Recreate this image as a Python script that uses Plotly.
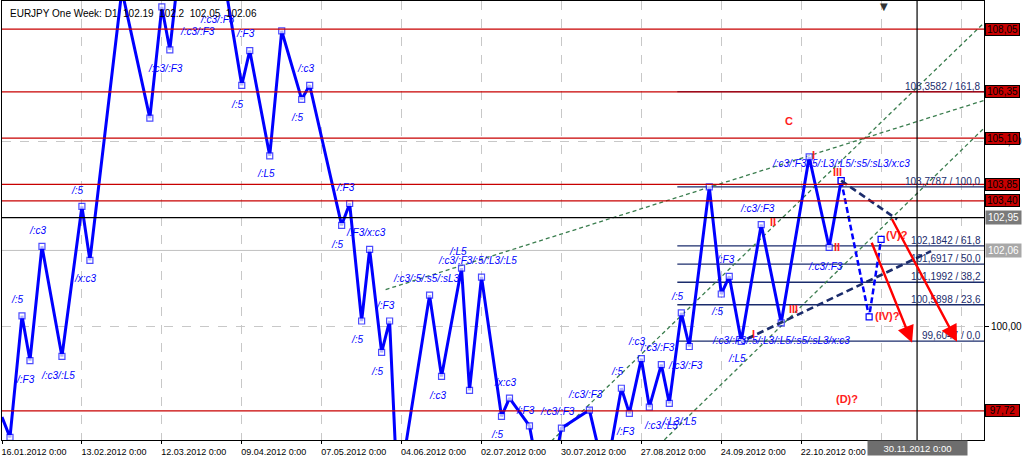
import plotly.graph_objects as go

# ---------------- data ----------------
# main zigzag wave (vertex dates / prices)
zz_dates = ["2012-01-16", "2012-01-18", "2012-01-23", "2012-01-25", "2012-01-30", "2012-02-06",
            "2012-02-13", "2012-02-15", "2012-02-27", "2012-03-07", "2012-03-12", "2012-03-14",
            "2012-03-19", "2012-03-23", "2012-03-30", "2012-04-09", "2012-04-11", "2012-04-18",
            "2012-04-23", "2012-04-30", "2012-05-02", "2012-05-14", "2012-05-16", "2012-05-21",
            "2012-05-23", "2012-05-28", "2012-05-30", "2012-06-01", "2012-06-13", "2012-06-18",
            "2012-06-25", "2012-06-27", "2012-07-02", "2012-07-09", "2012-07-11", "2012-07-18",
            "2012-07-24", "2012-07-30", "2012-08-08", "2012-08-14", "2012-08-20", "2012-08-22",
            "2012-08-27", "2012-08-29", "2012-09-03", "2012-09-05", "2012-09-10", "2012-09-12",
            "2012-09-19", "2012-09-24", "2012-09-26", "2012-10-01", "2012-10-08", "2012-10-15",
            "2012-10-24", "2012-10-31", "2012-11-05"]
zz_prices = [97.55, 97.00, 100.29, 99.08, 102.17, 99.19,
             103.25, 101.79, 109.10, 105.64, 108.65, 107.49,
             110.40, 109.30, 110.45, 106.53, 107.47, 104.62,
             108.00, 106.15, 106.53, 102.74, 103.33, 100.15,
             102.09, 99.30, 100.15, 95.40, 100.85, 98.65,
             101.58, 98.27, 101.34, 97.57, 98.06, 97.31,
             95.00, 97.25, 97.74, 95.90, 98.33, 97.65,
             99.13, 97.82, 98.97, 97.92, 100.37, 99.46,
             103.78, 100.88, 101.36, 99.60, 102.76, 100.10,
             104.59, 102.14, 103.95]
# projected (dashed) part of the wave
proj_dates = ["2012-11-05", "2012-11-14", "2012-11-19"]
proj_prices = [103.95, 100.26, 102.36]

# horizontal price levels
red_levels = [108.05, 106.35, 105.10, 103.85, 103.40, 97.72]
red_texts = ["108,05", "106,35", "105,10", "103,85", "103,40", "97,72"]
cross_price, cross_text = 102.95, "102,95"
bid_price, bid_text = 102.06, "102,06"
cross_date, cross_date_text = "2012-11-30", "30.11.2012 0:00"

# Fibonacci levels
fib_start = "2012-09-07"
fib_prices = [106.3582, 103.7787, 102.1842, 101.6917, 101.1992, 100.5898, 99.6047]
fib_texts = ["106,3582 / 161,8", "103,7787 / 100,0", "102,1842 / 61,8", "101,6917 / 50,0",
             "101,1992 / 38,2", "100,5898 / 23,6", "99,6047 / 0,0"]

# green channel lines (start date, start price, end date, end price)
green_lines = [
    ("2012-05-29", 101.00, "2012-12-24 18:00", 106.12),
    ("2012-07-25 12:00", 96.90, "2012-12-24 18:00", 108.22),
    ("2012-08-31 12:00", 96.80, "2012-12-24 18:00", 105.37),
]
# navy dashed lines
navy_lines = [
    ("2012-11-05", 103.95, "2012-11-23", 102.90),
    ("2012-10-02 12:00", 99.67, "2012-12-05 12:00", 102.04),
]
# red arrows (tail date, tail price, head date, head price)
red_arrows = [
    ("2012-11-14 12:00", 102.31, "2012-11-28 18:00", 99.56),
    ("2012-11-21 12:00", 102.95, "2012-12-14", 99.59),
]

# blue wave labels (date, price, text)
blue_labels = [
    ("2012-02-10", 103.68, "/:5"), ("2012-01-27", 102.60, "/:c3"), ("2012-02-14", 101.31, "/x:c3"),
    ("2012-01-20", 100.72, "/:5"), ("2012-01-24", 98.57, "/:F3"), ("2012-02-03", 98.68, "/:c3/:L5"),
    ("2012-04-17", 104.13, "/:L5"), ("2012-05-15", 103.76, "/:F3"), ("2012-05-22", 102.55, "/:F3/x:c3"),
    ("2012-05-11", 102.22, "/:5"), ("2012-05-29", 100.58, "/:F3"), ("2012-05-18", 99.64, "/:5"),
    ("2012-05-25", 98.78, "/:5"), ("2012-03-30", 108.30, "/:c3/:F3"), ("2012-03-23", 107.98, "/:c3/:F3"),
    ("2012-03-13", 106.98, "/:c3/:F3"), ("2012-04-10", 107.92, "/:F3"), ("2012-04-06", 106.02, "/:5"),
    ("2012-05-01", 106.98, "/:c3"), ("2012-04-27", 105.67, "/:5"),
    ("2012-06-12", 101.31, "/:c3/:5/:s5/:sL3"), ("2012-06-22", 102.04, "/:L5"),
    ("2012-06-29", 101.79, "/:c3/:F3/:5/:L3/:L5"), ("2012-06-15", 98.14, "/:c3"),
    ("2012-07-10", 98.49, "/x:c3"), ("2012-07-06", 97.09, "/:5"), ("2012-07-17", 97.74, "/:F3"),
    ("2012-07-27", 97.71, "/:c3/:F3"), ("2012-08-07", 98.17, "/:c3/:F3"), ("2012-08-17", 98.78, "/:5"),
    ("2012-08-24", 99.59, "/:c3"), ("2012-08-31", 99.43, "/:c3/:F3"), ("2012-09-11", 98.95, "/:c3/:F3"),
    ("2012-09-07", 100.80, "/:5"), ("2012-08-21", 97.17, "/:F3"), ("2012-09-03", 97.33, "/:c3/:L5"),
    ("2012-09-07 12:00", 97.44, "/:L3/:L5"), ("2012-09-25", 101.82, "/:F3"), ("2012-09-21", 100.40, "/:5"),
    ("2012-10-05", 103.19, "/:c3/:F3"), ("2012-10-30", 101.63, "/:c3/:F3"),
    ("2012-11-05", 104.40, "/:c3/:F3/:5/:L3/:L5/:s5/:sL3/x:c3"),
    ("2012-10-15", 99.62, "/:c3/:F3/:5/:L3/:L5/:s5/:sL3/x:c3"), ("2012-09-28", 99.13, "/:L5"),
]
# red wave labels
red_labels = [
    ("2012-10-17", 105.56, "C"), ("2012-11-06 12:00", 98.03, "(D)?"), ("2012-11-23", 102.47, "(V)?"),
    ("2012-11-20 12:00", 100.29, "(IV)?"), ("2012-10-11", 102.84, "II"), ("2012-11-02", 102.14, "II"),
    ("2012-10-18", 100.48, "III"), ("2012-10-04", 99.81, "I"), ("2012-11-02", 104.19, "III"),
    ("2012-10-25", 104.64, "I"),
]

# x axis ticks
tick_dates = ["2012-01-16", "2012-02-13", "2012-03-12", "2012-04-09", "2012-05-07", "2012-06-04",
              "2012-07-02", "2012-07-30", "2012-08-27", "2012-09-24", "2012-10-22", "2012-11-19",
              "2012-12-17"]
tick_texts = [d[8:10] + "." + d[5:7] + "." + d[0:4] + " 0:00" for d in tick_dates]

x_range = ["2012-01-16", "2012-12-24 18:00"]
y_range = [96.929, 108.811]

FONT = "Liberation Sans, Arial, sans-serif"
BLUE = "#0000FF"
NAVY = "#1B2C6C"
GREEN = "#3A7D4E"
RED = "#C80000"

fig = go.Figure()

# Fibonacci lines
for p in fib_prices:
    fig.add_trace(go.Scatter(x=[fib_start, x_range[1]], y=[p, p], mode="lines",
                             line=dict(color=NAVY, width=1.3), hoverinfo="skip", showlegend=False))

# green channel lines
for x0, y0, x1, y1 in green_lines:
    fig.add_trace(go.Scatter(x=[x0, x1], y=[y0, y1], mode="lines",
                             line=dict(color=GREEN, width=1.3, dash="4px,3px"),
                             hoverinfo="skip", showlegend=False))

# wave
sizes = [0] + [6] * (len(zz_dates) - 1)
fig.add_trace(go.Scatter(x=zz_dates, y=zz_prices, mode="lines+markers",
                         line=dict(color=BLUE, width=3),
                         marker=dict(symbol="square", size=sizes, color="white",
                                     line=dict(color=BLUE, width=1.2)),
                         hoverinfo="skip", showlegend=False))
fig.add_trace(go.Scatter(x=proj_dates, y=proj_prices, mode="lines+markers",
                         line=dict(color=BLUE, width=2.5, dash="6px,3px"),
                         marker=dict(symbol="square", size=6, color="white",
                                     line=dict(color=BLUE, width=1.2)),
                         hoverinfo="skip", showlegend=False))

# navy dashed lines
for x0, y0, x1, y1 in navy_lines:
    fig.add_trace(go.Scatter(x=[x0, x1], y=[y0, y1], mode="lines",
                             line=dict(color=NAVY, width=2.6, dash="7px,4px"),
                             hoverinfo="skip", showlegend=False))

shapes = []
for p in red_levels:
    shapes.append(dict(type="line", xref="paper", x0=0, x1=1, yref="y", y0=p, y1=p,
                       line=dict(color=RED, width=1.3), layer="above"))
shapes.append(dict(type="line", xref="paper", x0=0, x1=1, yref="y", y0=bid_price, y1=bid_price,
                   line=dict(color="#C0C0C0", width=1), layer="below"))
shapes.append(dict(type="line", xref="paper", x0=0, x1=1, yref="y", y0=cross_price, y1=cross_price,
                   line=dict(color="black", width=1.2), layer="above"))
shapes.append(dict(type="line", xref="x", x0=cross_date, x1=cross_date, yref="paper", y0=0, y1=1,
                   line=dict(color="black", width=1.2), layer="above"))

annotations = []
for d, p, t in blue_labels:
    annotations.append(dict(x=d, y=p, xref="x", yref="y", text="<i>" + t + "</i>", showarrow=False,
                            font=dict(family=FONT, size=10, color=BLUE)))
for d, p, t in red_labels:
    annotations.append(dict(x=d, y=p, xref="x", yref="y", text="<b>" + t + "</b>", showarrow=False,
                            font=dict(family=FONT, size=11, color="#FF2020")))
for p, t in zip(fib_prices, fib_texts):
    annotations.append(dict(x=1, y=p, xref="paper", yref="y", text=t, showarrow=False,
                            xanchor="right", yanchor="bottom", xshift=-1, yshift=-2,
                            font=dict(family=FONT, size=10, color=NAVY)))
for x0, y0, x1, y1 in red_arrows:
    annotations.append(dict(x=x1, y=y1, ax=x0, ay=y0, xref="x", yref="y", axref="x", ayref="y",
                            text="", showarrow=True, arrowhead=2, arrowsize=1.4, arrowwidth=2.4,
                            arrowcolor="#FF0000"))
for p, t in zip(red_levels, red_texts):
    annotations.append(dict(x=1, y=p, xref="paper", yref="y", text=t, showarrow=False,
                            xanchor="left", yanchor="middle", xshift=1, width=33, height=11,
                            bgcolor=RED, bordercolor="black", borderwidth=1, borderpad=0,
                            font=dict(family=FONT, size=10, color="black")))
annotations.append(dict(x=1, y=cross_price, xref="paper", yref="y", text=cross_text, showarrow=False,
                        xanchor="left", yanchor="middle", xshift=1, width=33, height=11,
                        bgcolor="#7A7A7A", borderpad=1, font=dict(family=FONT, size=10, color="white")))
annotations.append(dict(x=1, y=bid_price, xref="paper", yref="y", text=bid_text, showarrow=False,
                        xanchor="left", yanchor="middle", xshift=1, width=33, height=11,
                        bgcolor="#A8A8A8", borderpad=1, font=dict(family=FONT, size=10, color="white")))
annotations.append(dict(x=cross_date, y=0, xref="x", yref="paper", text=cross_date_text, showarrow=False,
                        xanchor="center", yanchor="top", yshift=0, width=97, height=12,
                        bgcolor="#6E6E6E", borderpad=1, font=dict(family=FONT, size=9.5, color="white")))
annotations.append(dict(x=0, y=1, xref="paper", yref="paper", showarrow=False, xanchor="left",
                        yanchor="top", xshift=6, yshift=-5,
                        text="EURJPY One Week: D1\u00a0\u00a0102.19\u00a0\u00a0102.2\u00a0\u00a0102.05\u00a0\u00a0102.06",
                        font=dict(family=FONT, size=10, color="black")))
annotations.append(dict(x=0.898, y=1, xref="paper", yref="paper", showarrow=False, text="\u25BC",
                        yanchor="top", yshift=2, xshift=6,
                        font=dict(family="DejaVu Sans", size=10, color="#333333")))

fig.update_layout(
    width=1022, height=457,
    margin=dict(l=2, r=37, t=0, b=15),
    paper_bgcolor="white", plot_bgcolor="white",
    showlegend=False,
    shapes=shapes, annotations=annotations,
    xaxis=dict(type="date", range=x_range, rangebreaks=[dict(bounds=["sat", "mon"])],
               tickmode="array", tickvals=tick_dates, ticktext=tick_texts,
               ticks="outside", ticklen=3, tickcolor="black", ticklabelshift=32, ticklabelstandoff=0,
               tickfont=dict(family=FONT, size=9, color="black"),
               showgrid=True, gridcolor="#C8C8C8", griddash="dash", gridwidth=1,
               showline=True, linecolor="black", linewidth=1, mirror=True, zeroline=False,
               fixedrange=True),
    yaxis=dict(range=y_range, side="right", tickmode="array", tickvals=[100, 105],
               ticktext=["100,00", "105,00"], ticks="outside", ticklen=4, tickcolor="black",
               tickfont=dict(family=FONT, size=10, color="black"),
               showgrid=True, gridcolor="#C8C8C8", griddash="dash", gridwidth=1,
               showline=True, linecolor="black", linewidth=1, mirror=True, zeroline=False,
               fixedrange=True),
)

fig.write_html("out.html", config={"displayModeBar": False},
               post_script="document.body.style.margin='0';document.body.style.overflow='hidden';")
